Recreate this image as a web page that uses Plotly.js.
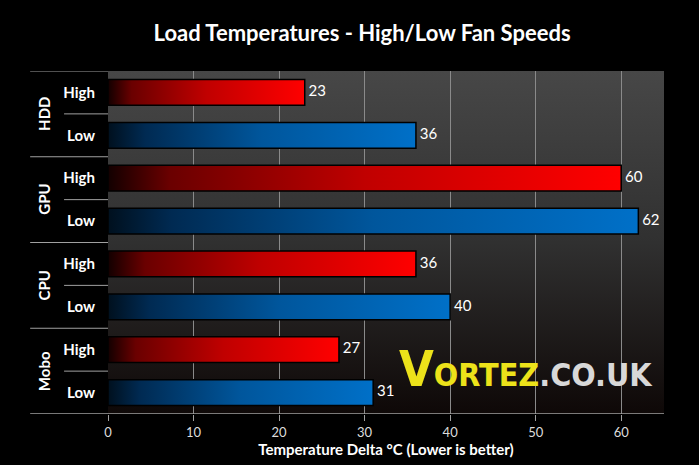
<!DOCTYPE html>
<html>
<head>
<meta charset="utf-8">
<script src="https://cdn.plot.ly/plotly-3.0.1.min.js"></script>
<style>
	html, body { margin: 0; padding: 0; background: #000; }
	#plot { width: 699px; height: 465px; }
</style>
</head>
<body>
<div id="plot"></div>
<script>
const groups = ["HDD", "GPU", "CPU", "Mobo"];
const speeds = ["High", "Low"];
const highTemps = [23, 60, 36, 27];
const lowTemps = [36, 62, 40, 31];
const xTicks = [0, 10, 20, 30, 40, 50, 60];

const redScale = [[0, "#120000"], [0.12, "#6a0000"], [0.5, "#c00000"], [1, "#ff0000"]];
const blueScale = [[0, "#00101e"], [0.12, "#002a52"], [0.5, "#00569c"], [1, "#0070c8"]];
const half = 0.3;

let traces = [];
let rowText = [];
let rowVals = [];
let rowIdx = [];

groups.forEach((g, gi) => {
	[highTemps[gi], lowTemps[gi]].forEach((v, si) => {
		const r = gi * 2 + si;
		traces.push({
			type: "scatter",
			mode: "lines",
			x: [0, v, v, 0, 0],
			y: [r - half, r - half, r + half, r + half, r - half],
			fill: "toself",
			fillgradient: {
				type: "horizontal",
				colorscale: si === 0 ? redScale : blueScale,
			},
			line: { color: "#000", width: 1.5 },
			hoverinfo: "skip",
			showlegend: false,
		});
		rowText.push(speeds[si]);
		rowVals.push(v);
		rowIdx.push(r);
	});
});

traces.push({
	type: "scatter",
	mode: "text",
	x: rowVals,
	y: rowIdx,
	text: rowVals.map((v) => " " + v),
	textposition: "middle right",
	textfont: { family: "Lato, sans-serif", size: 15, color: "#fff" },
	hoverinfo: "skip",
	showlegend: false,
});

const bgSvg =
	'<svg xmlns="http://www.w3.org/2000/svg" width="100" height="100" preserveAspectRatio="none">' +
	'<defs><linearGradient id="g" x1="0" y1="0" x2="0" y2="1">' +
	'<stop offset="0" stop-color="#474747"/><stop offset="0.5" stop-color="#303030"/>' +
	'<stop offset="1" stop-color="#0e0807"/></linearGradient></defs>' +
	'<rect width="100" height="100" fill="url(#g)"/></svg>';

const lineColor = "#a0a0a0";
let shapes = [];
// group and sub-row dividers left of the plot
for (let i = 0; i < groups.length; i++) {
	shapes.push({
		type: "line", xref: "paper", yref: "y",
		x0: -0.14, x1: 0, y0: i * 2 - 0.5, y1: i * 2 - 0.5,
		line: { color: lineColor, width: 1 },
	});
	shapes.push({
		type: "line", xref: "paper", yref: "y",
		x0: -0.079, x1: 0, y0: i * 2 + 0.5, y1: i * 2 + 0.5,
		line: { color: lineColor, width: 1 },
	});
}
// bottom axis line
shapes.push({
	type: "line", xref: "paper", yref: "y",
	x0: -0.14, x1: 1, y0: 7.5, y1: 7.5,
	line: { color: lineColor, width: 1.5 },
});

let annotations = groups.map((g, gi) => ({
	xref: "paper", yref: "y",
	x: 0, y: gi * 2 + 0.5,
	xshift: -64,
	xanchor: "center",
	text: "<b>" + g + "</b>",
	textangle: -90,
	showarrow: false,
	font: { family: "Lato, sans-serif", size: 15, color: "#fff" },
}));

annotations.push({
	xref: "paper", yref: "paper",
	x: 0.752, y: 0.13,
	xanchor: "center", yanchor: "middle",
	showarrow: false,
	text: '<b><span style="color:#ece21a;font-size:50px">V</span><span style="color:#ece21a">ORTEZ</span><span style="color:#d8d8d8">.CO.UK</span></b>',
	font: { family: "DejaVu Sans Condensed, sans-serif", size: 32, color: "#ece21a" },
});

const layout = {
	width: 699,
	height: 465,
	margin: { l: 108, r: 35, t: 71, b: 51 },
	paper_bgcolor: "#000",
	plot_bgcolor: "rgba(0,0,0,0)",
	title: {
		text: "<b>Load Temperatures - High/Low Fan Speeds</b>",
		font: { family: "Lato, sans-serif", size: 22, color: "#fff" },
		x: 0.518, xanchor: "center",
		y: 0.929, yref: "container", yanchor: "middle",
	},
	xaxis: {
		range: [0, 65],
		tickvals: xTicks,
		ticktext: xTicks.map(String),
		showgrid: true,
		gridcolor: "#8a8a8a",
		gridwidth: 1,
		zeroline: false,
		showline: false,
		ticks: "outside",
		ticklen: 6,
		tickcolor: lineColor,
		tickfont: { family: "Lato, sans-serif", size: 13, color: "#ddd" },
		title: {
			text: "<b>Temperature Delta °C (Lower is better)</b>",
			font: { family: "Lato, sans-serif", size: 15, color: "#fff" },
			standoff: 4,
		},
		fixedrange: true,
	},
	yaxis: {
		range: [7.5, -0.5],
		tickvals: rowIdx,
		ticktext: rowText.map((t) => "<b>" + t + "</b>"),
		showgrid: false,
		zeroline: false,
		showline: false,
		ticks: "",
		ticklabelstandoff: 12,
		tickfont: { family: "Lato, sans-serif", size: 15, color: "#fff" },
		fixedrange: true,
	},
	images: [{
		source: "data:image/svg+xml;utf8," + encodeURIComponent(bgSvg),
		xref: "paper", yref: "paper",
		x: 0, y: 1, sizex: 1, sizey: 1,
		xanchor: "left", yanchor: "top",
		sizing: "stretch",
		layer: "below",
	}],
	shapes: shapes,
	annotations: annotations,
};

Plotly.newPlot("plot", traces, layout, { displayModeBar: false, staticPlot: true });
</script>
</body>
</html>
